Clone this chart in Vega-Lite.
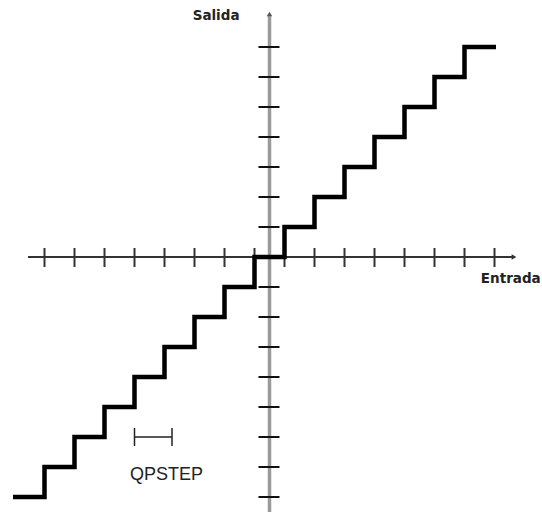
{
  "$schema": "https://vega.github.io/schema/vega-lite/v6.json",
  "width": 542,
  "height": 512,
  "padding": 0,
  "autosize": {"type": "none"},
  "background": "white",
  "view": {"stroke": null},
  "datasets": {
    "yaxis": [{"x": 0, "y": -8.6, "y2": 8.05}],
    "xaxis": [{"x": -8.05, "x2": 8.1, "y": 0}],
    "xticks": [
      {"x": -7.5}, {"x": -6.5}, {"x": -5.5}, {"x": -4.5}, {"x": -3.5}, {"x": -2.5}, {"x": -1.5}, {"x": -0.5},
      {"x": 0.5}, {"x": 1.5}, {"x": 2.5}, {"x": 3.5}, {"x": 4.5}, {"x": 5.5}, {"x": 6.5}, {"x": 7.5}
    ],
    "yticks": [
      {"y": -8}, {"y": -7}, {"y": -6}, {"y": -5}, {"y": -4}, {"y": -3}, {"y": -2}, {"y": -1},
      {"y": 1}, {"y": 2}, {"y": 3}, {"y": 4}, {"y": 5}, {"y": 6}, {"y": 7}
    ],
    "stairs": [
      {"i": 0, "x": -8.55, "y": -8}, {"i": 1, "x": -7.5, "y": -8},
      {"i": 2, "x": -7.5, "y": -7}, {"i": 3, "x": -6.5, "y": -7},
      {"i": 4, "x": -6.5, "y": -6}, {"i": 5, "x": -5.5, "y": -6},
      {"i": 6, "x": -5.5, "y": -5}, {"i": 7, "x": -4.5, "y": -5},
      {"i": 8, "x": -4.5, "y": -4}, {"i": 9, "x": -3.5, "y": -4},
      {"i": 10, "x": -3.5, "y": -3}, {"i": 11, "x": -2.5, "y": -3},
      {"i": 12, "x": -2.5, "y": -2}, {"i": 13, "x": -1.5, "y": -2},
      {"i": 14, "x": -1.5, "y": -1}, {"i": 15, "x": -0.5, "y": -1},
      {"i": 16, "x": -0.5, "y": 0}, {"i": 17, "x": 0.5, "y": 0},
      {"i": 18, "x": 0.5, "y": 1}, {"i": 19, "x": 1.5, "y": 1},
      {"i": 20, "x": 1.5, "y": 2}, {"i": 21, "x": 2.5, "y": 2},
      {"i": 22, "x": 2.5, "y": 3}, {"i": 23, "x": 3.5, "y": 3},
      {"i": 24, "x": 3.5, "y": 4}, {"i": 25, "x": 4.5, "y": 4},
      {"i": 26, "x": 4.5, "y": 5}, {"i": 27, "x": 5.5, "y": 5},
      {"i": 28, "x": 5.5, "y": 6}, {"i": 29, "x": 6.5, "y": 6},
      {"i": 30, "x": 6.5, "y": 7}, {"i": 31, "x": 7.55, "y": 7}
    ],
    "arrowUp": [{"x": 0, "y": 8.1}],
    "arrowRight": [{"x": 8.15, "y": 0}],
    "bracketH": [{"x": -4.5, "x2": -3.25, "y": -6}],
    "bracketV": [{"x": -4.5, "y": -5.7, "y2": -6.3}, {"x": -3.25, "y": -5.7, "y2": -6.3}],
    "labelSalida": [{"x": -1.78, "y": 8.03, "label": "Salida"}],
    "labelEntrada": [{"x": 9.04, "y": -0.73, "label": "Entrada"}],
    "labelsPlain": [{"x": -3.43, "y": -7.27, "label": "QPSTEP"}]
  },
  "encoding": {},
  "layer": [
    {
      "data": {"name": "yaxis"},
      "mark": {"type": "rule", "color": "#9a9a9a", "strokeWidth": 3.5},
      "encoding": {
        "x": {"field": "x", "type": "quantitative", "scale": {"domain": [-8.9833, 9.0833], "nice": false, "zero": false}, "axis": null},
        "y": {"field": "y", "type": "quantitative", "scale": {"domain": [-8.5, 8.5667], "nice": false, "zero": false}, "axis": null},
        "y2": {"field": "y2"}
      }
    },
    {
      "data": {"name": "xaxis"},
      "mark": {"type": "rule", "color": "#333333", "strokeWidth": 2},
      "encoding": {
        "x": {"field": "x", "type": "quantitative"},
        "x2": {"field": "x2"},
        "y": {"field": "y", "type": "quantitative"}
      }
    },
    {
      "data": {"name": "xticks"},
      "mark": {"type": "rule", "color": "#333333", "strokeWidth": 2, "y": 248, "y2": 267},
      "encoding": {
        "x": {"field": "x", "type": "quantitative"}
      }
    },
    {
      "data": {"name": "yticks"},
      "mark": {"type": "rule", "color": "#111111", "strokeWidth": 2, "x": 258.5, "x2": 279.5},
      "encoding": {
        "y": {"field": "y", "type": "quantitative"}
      }
    },
    {
      "data": {"name": "arrowUp"},
      "mark": {"type": "point", "shape": "triangle-up", "filled": true, "color": "#555555", "size": 30, "opacity": 1},
      "encoding": {
        "x": {"field": "x", "type": "quantitative"},
        "y": {"field": "y", "type": "quantitative"}
      }
    },
    {
      "data": {"name": "arrowRight"},
      "mark": {"type": "point", "shape": "triangle-right", "filled": true, "color": "#333333", "size": 30, "opacity": 1},
      "encoding": {
        "x": {"field": "x", "type": "quantitative"},
        "y": {"field": "y", "type": "quantitative"}
      }
    },
    {
      "data": {"name": "stairs"},
      "mark": {"type": "line", "color": "#000000", "strokeWidth": 4.5, "strokeJoin": "miter", "strokeCap": "butt"},
      "encoding": {
        "x": {"field": "x", "type": "quantitative"},
        "y": {"field": "y", "type": "quantitative"},
        "order": {"field": "i", "type": "quantitative"}
      }
    },
    {
      "data": {"name": "bracketH"},
      "mark": {"type": "rule", "color": "#222222", "strokeWidth": 1.5},
      "encoding": {
        "x": {"field": "x", "type": "quantitative"},
        "x2": {"field": "x2"},
        "y": {"field": "y", "type": "quantitative"}
      }
    },
    {
      "data": {"name": "bracketV"},
      "mark": {"type": "rule", "color": "#222222", "strokeWidth": 1.5},
      "encoding": {
        "x": {"field": "x", "type": "quantitative"},
        "y": {"field": "y", "type": "quantitative"},
        "y2": {"field": "y2"}
      }
    },
    {
      "data": {"name": "labelSalida"},
      "mark": {"type": "text", "font": "DejaVu Sans", "fontWeight": "bold", "fontSize": 13.5, "color": "#222222", "align": "center", "baseline": "middle"},
      "encoding": {
        "x": {"field": "x", "type": "quantitative"},
        "y": {"field": "y", "type": "quantitative"},
        "text": {"field": "label"}
      }
    },
    {
      "data": {"name": "labelEntrada"},
      "mark": {"type": "text", "font": "DejaVu Sans", "fontWeight": "bold", "fontSize": 13.5, "color": "#222222", "align": "right", "baseline": "middle"},
      "encoding": {
        "x": {"field": "x", "type": "quantitative"},
        "y": {"field": "y", "type": "quantitative"},
        "text": {"field": "label"}
      }
    },
    {
      "data": {"name": "labelsPlain"},
      "mark": {"type": "text", "font": "Liberation Sans", "fontSize": 18, "color": "#222222", "align": "center", "baseline": "middle"},
      "encoding": {
        "x": {"field": "x", "type": "quantitative"},
        "y": {"field": "y", "type": "quantitative"},
        "text": {"field": "label"}
      }
    }
  ]
}
